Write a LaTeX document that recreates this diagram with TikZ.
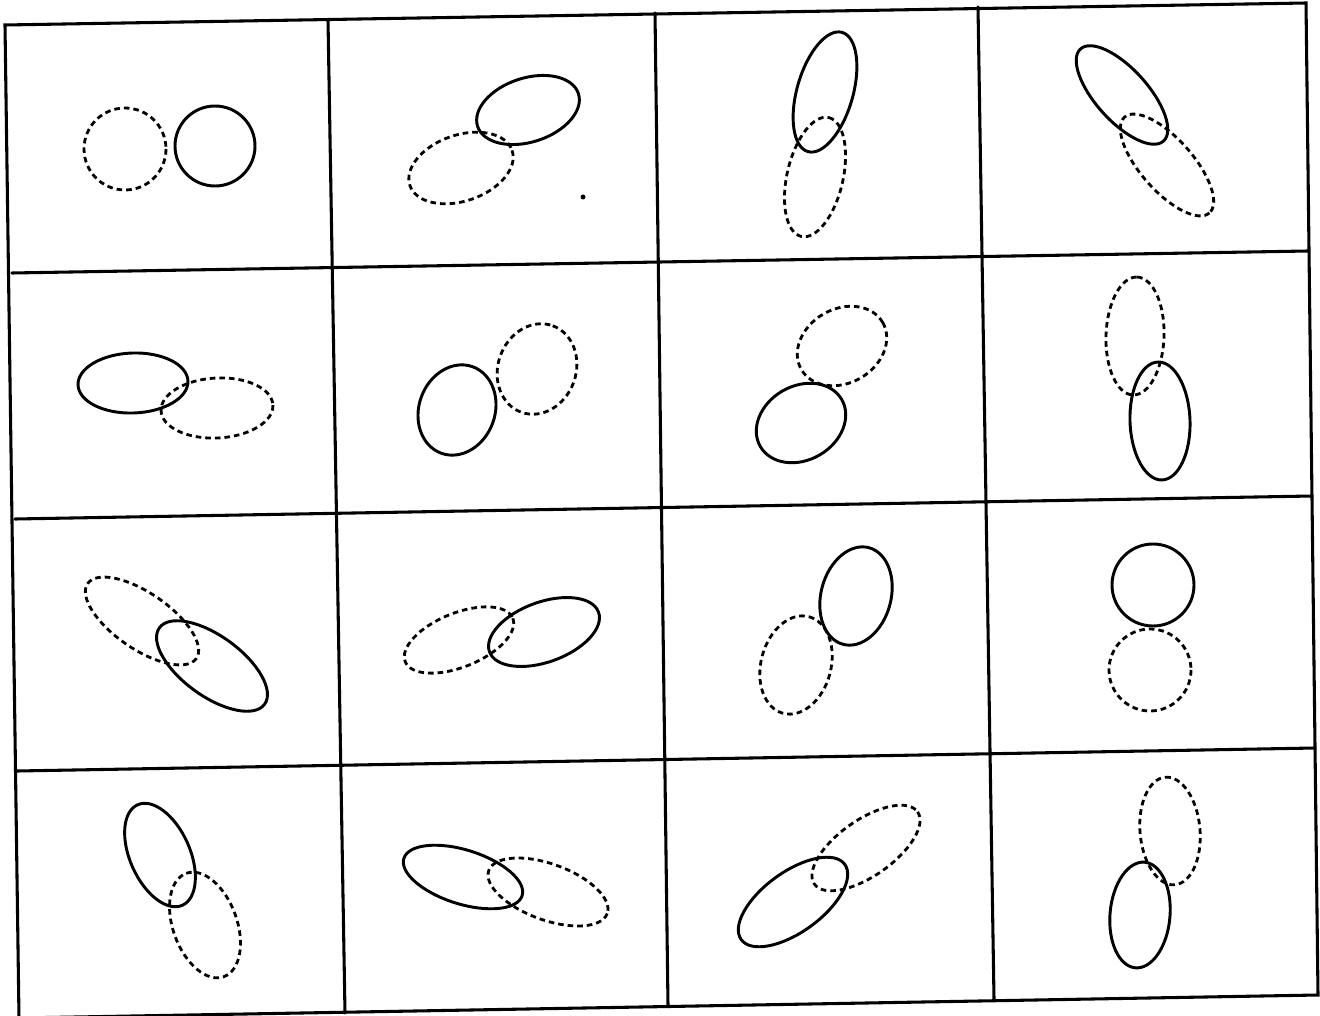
\documentclass[tikz,border=0pt]{standalone}
\begin{document}
\begin{tikzpicture}[x=0.75pt,y=-0.75pt,
  gridline/.style={line width=2.3pt,line cap=round},
  solidE/.style={line width=2.2pt},
  dashE/.style={line width=2.1pt,dash pattern=on 4.2pt off 3pt}]
\useasboundingbox (0,0) rectangle (1320,1016);
% grid
\draw[gridline] (5,25)--(1306,3)--(1318,995)--(19,1018)--cycle;
\draw[gridline] (12,273)--(1308,251);
\draw[gridline] (15,519)--(1312,496);
\draw[gridline] (17,771)--(1315,748);
\draw[gridline] (328,20)--(345,1013);
\draw[gridline] (655,13)--(668,1006);
\draw[gridline] (978,7)--(994,999);
% row 1
\draw[dashE] (125,149) circle [radius=41];
\draw[solidE] (215,146) circle [radius=40];
\draw[solidE,rotate around={18:(528,110)}] (528,110) ellipse [x radius=53,y radius=32];
\draw[dashE,rotate around={19:(461,168)}] (461,168) ellipse [x radius=54,y radius=33];
\fill (583,197) circle [radius=2.5];
\draw[solidE,rotate around={74:(825,92)}] (825,92) ellipse [x radius=62,y radius=28];
\draw[dashE,rotate around={77:(815,177)}] (815,177) ellipse [x radius=61,y radius=28];
\draw[solidE,rotate around={-48:(1122,95)}] (1122,95) ellipse [x radius=62,y radius=26];
\draw[dashE,rotate around={-48.5:(1167,165)}] (1167,165) ellipse [x radius=64,y radius=26];
% row 2
\draw[solidE,rotate around={2:(133,383)}] (133,383) ellipse [x radius=55,y radius=30];
\draw[dashE,rotate around={3:(217,408)}] (217,408) ellipse [x radius=56,y radius=30];
\draw[solidE,rotate around={70:(457,410)}] (457,410) ellipse [x radius=46,y radius=38];
\draw[dashE,rotate around={70:(537,369)}] (537,369) ellipse [x radius=46,y radius=39];
\draw[dashE,rotate around={30:(842,346)}] (842,346) ellipse [x radius=47,y radius=37];
\draw[solidE,rotate around={30:(801,423)}] (801,423) ellipse [x radius=47,y radius=37];
\draw[dashE,rotate around={88:(1135,336)}] (1135,336) ellipse [x radius=59,y radius=29];
\draw[solidE,rotate around={92:(1160,421)}] (1160,421) ellipse [x radius=59,y radius=30];
% row 3
\draw[dashE,rotate around={-34.5:(142,621)}] (142,621) ellipse [x radius=66,y radius=28];
\draw[solidE,rotate around={-36:(212,666)}] (212,666) ellipse [x radius=65,y radius=30];
\draw[dashE,rotate around={22:(459,640)}] (459,640) ellipse [x radius=58,y radius=27];
\draw[solidE,rotate around={20:(544,632)}] (544,632) ellipse [x radius=58,y radius=30];
\draw[solidE,rotate around={75:(856,596)}] (856,596) ellipse [x radius=50,y radius=35];
\draw[dashE,rotate around={75:(796,665)}] (796,665) ellipse [x radius=50,y radius=35];
\draw[solidE] (1153,585) circle [radius=41];
\draw[dashE] (1150,670) circle [radius=41];
% row 4
\draw[solidE,rotate around={114:(160,855)}] (160,855) ellipse [x radius=55,y radius=30];
\draw[dashE,rotate around={110:(205,925)}] (205,925) ellipse [x radius=55,y radius=32];
\draw[solidE,rotate around={-17.5:(463,877)}] (463,877) ellipse [x radius=62,y radius=27];
\draw[dashE,rotate around={-20:(548,892)}] (548,892) ellipse [x radius=63,y radius=28];
\draw[solidE,rotate around={36:(793,902)}] (793,902) ellipse [x radius=64,y radius=30];
\draw[dashE,rotate around={35:(866,848)}] (866,848) ellipse [x radius=63,y radius=28];
\draw[dashE,rotate around={95:(1170,831)}] (1170,831) ellipse [x radius=54,y radius=30];
\draw[solidE,rotate around={85:(1140,915)}] (1140,915) ellipse [x radius=53,y radius=30];
\end{tikzpicture}
\end{document}
